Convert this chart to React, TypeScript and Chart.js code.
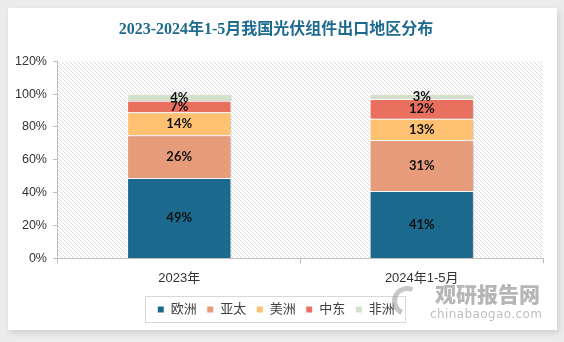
import React, { useEffect, useRef } from "react";
import { Chart, registerables } from "chart.js";

Chart.register(...registerables);

const categories = ["2023年", "2024年1-5月"];
const seriesNames = ["欧洲", "亚太", "美洲", "中东", "非洲"];
const europe = [49, 41];
const asiaPacific = [26, 31];
const americas = [14, 13];
const middleEast = [7, 12];
const africa = [4, 3];
const seriesColors = ["#1b6a8e", "#e69b7b", "#fec172", "#e9705f", "#d2e0cb"];
const yTicks = [0, 20, 40, 60, 80, 100, 120];
const titleText = "2023-2024年1-5月我国光伏组件出口地区分布";

function makeHatch(): CanvasPattern | string {
  const c = document.createElement("canvas");
  c.width = 4;
  c.height = 4;
  const g = c.getContext("2d");
  if (!g) return "#fff";
  g.fillStyle = "#ffffff";
  g.fillRect(0, 0, 4, 4);
  g.strokeStyle = "#dcdcdc";
  g.lineWidth = 1;
  g.beginPath();
  g.moveTo(-1, -1);
  g.lineTo(5, 5);
  g.moveTo(-1, 3);
  g.lineTo(1, 5);
  g.moveTo(3, -1);
  g.lineTo(5, 1);
  g.stroke();
  const p = g.createPattern(c, "repeat");
  return p || "#fff";
}

const hatchPlugin = {
  id: "hatchBg",
  beforeDraw(chart: any) {
    const { ctx, chartArea } = chart;
    if (!chartArea) return;
    ctx.save();
    ctx.fillStyle = makeHatch();
    ctx.fillRect(chartArea.left, chartArea.top, chartArea.right - chartArea.left, chartArea.bottom - chartArea.top);
    ctx.restore();
  },
};

const shadowPlugin = {
  id: "barShadow",
  beforeDatasetDraw(chart: any) {
    const ctx = chart.ctx;
    ctx.save();
    ctx.shadowColor = "rgba(0,0,0,0.22)";
    ctx.shadowOffsetX = 2;
    ctx.shadowOffsetY = 1;
    ctx.shadowBlur = 3;
  },
  afterDatasetDraw(chart: any) {
    chart.ctx.restore();
  },
};

const labelPlugin = {
  id: "segLabels",
  afterDatasetsDraw(chart: any) {
    const ctx = chart.ctx;
    ctx.save();
    ctx.font = "bold 13px Lato, 'Liberation Sans', sans-serif";
    ctx.fillStyle = "#111111";
    ctx.textAlign = "center";
    ctx.textBaseline = "middle";
    chart.data.datasets.forEach((ds: any, di: number) => {
      const meta = chart.getDatasetMeta(di);
      meta.data.forEach((el: any, i: number) => {
        const v = ds.data[i];
        const p = el.getProps(["x", "y", "base"], true);
        ctx.fillText(v + "%", p.x, (p.y + p.base) / 2);
      });
    });
    ctx.restore();
  },
};

const legendBoxPlugin = {
  id: "legendBox",
  afterDraw(chart: any) {
    const lg = chart.legend;
    if (!lg || !lg.legendHitBoxes || !lg.legendHitBoxes.length) return;
    const boxes = lg.legendHitBoxes;
    let l = Infinity, r = -Infinity, t = Infinity, b = -Infinity;
    boxes.forEach((h: any) => {
      l = Math.min(l, h.left);
      r = Math.max(r, h.left + h.width);
      t = Math.min(t, h.top);
      b = Math.max(b, h.top + h.height);
    });
    const ctx = chart.ctx;
    ctx.save();
    ctx.strokeStyle = "#d9d9d9";
    ctx.lineWidth = 1;
    ctx.strokeRect(Math.round(l - 12) + 0.5, Math.round(t - 7) + 0.5, Math.round(r - l + 22), Math.round(b - t + 13));
    ctx.restore();
  },
};

export default function App() {
  const ref = useRef<HTMLCanvasElement>(null);
  useEffect(() => {
    if (!ref.current) return;
    const seriesData = [europe, asiaPacific, americas, middleEast, africa];
    const chart = new Chart(ref.current, {
      type: "bar",
      data: {
        labels: categories,
        datasets: seriesNames.map((name, i) => ({
          label: name,
          data: seriesData[i],
          backgroundColor: seriesColors[i],
          borderColor: "#ffffff",
          borderWidth: 1,
          barPercentage: 0.43,
          categoryPercentage: 1,
        })),
      },
      options: {
        responsive: false,
        animation: false,
        devicePixelRatio: 1,
        layout: { padding: { left: 1, right: 14, top: 0, bottom: 4 } },
        plugins: {
          title: {
            display: true,
            text: titleText,
            color: "#1d6a8e",
            font: { size: 16, weight: "bold", family: "'Liberation Serif', 'Noto Sans CJK SC', serif" },
            padding: { top: 12, bottom: 22 },
          },
          legend: {
            position: "bottom",
            labels: {
              boxWidth: 7,
              boxHeight: 7,
              padding: 10,
              color: "#404040",
              font: { size: 13, family: "'Liberation Sans', 'Noto Sans CJK SC', sans-serif" },
            },
          },
          tooltip: { enabled: false },
        },
        scales: {
          x: {
            stacked: true,
            grid: { display: true, drawOnChartArea: false, offset: true, tickLength: 5, color: "#bfbfbf" },
            border: { color: "#bfbfbf" },
            ticks: {
              color: "#333333",
              padding: 7,
              font: { size: 13, family: "'Liberation Sans', 'Noto Sans CJK SC', sans-serif" },
            },
          },
          y: {
            stacked: true,
            min: 0,
            max: 120,
            afterBuildTicks: (axis: any) => {
              axis.ticks = yTicks.map((v) => ({ value: v }));
            },
            grid: { display: true, drawOnChartArea: false, tickLength: 5, color: "#bfbfbf" },
            border: { color: "#bfbfbf" },
            ticks: {
              color: "#333333",
              padding: 6,
              font: { size: 12.5, family: "'Liberation Sans', 'Noto Sans CJK SC', sans-serif" },
              callback: (v: any) => v + "%",
            },
          },
        },
      },
      plugins: [hatchPlugin, shadowPlugin, labelPlugin, legendBoxPlugin],
    } as any);
    return () => chart.destroy();
  }, []);

  return (
    <div
      style={{
        position: "fixed",
        left: 0,
        top: 0,
        width: 564,
        height: 342,
        background: "#ececec",
        overflow: "hidden",
      }}
    >
      <div
        style={{
          position: "absolute",
          left: 8,
          top: 8,
          width: 549,
          height: 322,
          background: "#ffffff",
          boxShadow: "2px 3px 6px rgba(0,0,0,0.12)",
        }}
      >
        <canvas ref={ref} width={549} height={322} style={{ display: "block" }} />
        <div
          style={{
            position: "absolute",
            left: 384,
            top: 272,
            width: 165,
            height: 50,
            pointerEvents: "none",
            opacity: 0.55,
            whiteSpace: "nowrap",
          }}
        >
          <div
            style={{
              position: "absolute",
              left: 0,
              top: 6,
              width: 30,
              height: 30,
              borderRadius: "50%",
              border: "5px solid #9a9a9a",
              borderRightColor: "transparent",
              borderBottomColor: "transparent",
              boxSizing: "border-box",
              transform: "rotate(-20deg)",
            }}
          />
          <div
            style={{
              position: "absolute",
              left: 43,
              top: 0,
              fontFamily: "'Noto Sans CJK SC', sans-serif",
              fontWeight: 900,
              fontSize: 21,
              lineHeight: "26px",
              color: "#7a7a7a",
              letterSpacing: 0,
              whiteSpace: "nowrap",
            }}
          >
            观研报告网
          </div>
          <div
            style={{
              position: "absolute",
              left: 38,
              top: 27,
              fontFamily: "'DejaVu Sans', sans-serif",
              fontSize: 12,
              lineHeight: "14px",
              color: "#8a8a8a",
              letterSpacing: 0.4,
              whiteSpace: "nowrap",
            }}
          >
            chinabaogao.com
          </div>
        </div>
      </div>
    </div>
  );
}
